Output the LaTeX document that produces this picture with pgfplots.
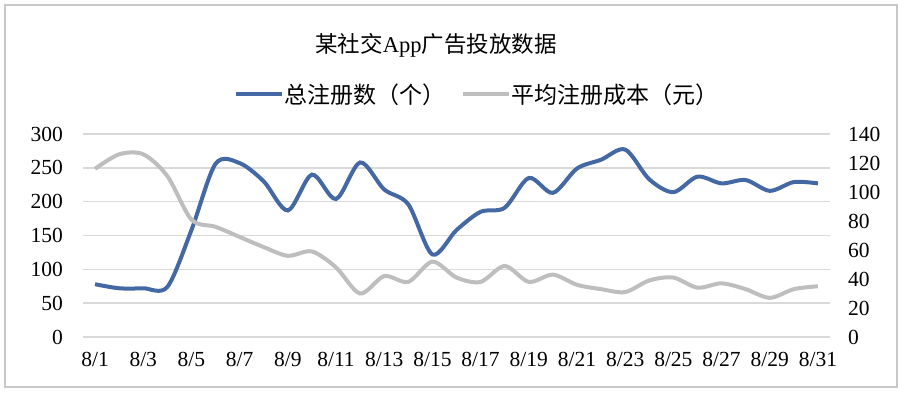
\documentclass[border=0pt]{standalone}
\usepackage{pgfplots}
\pgfplotsset{compat=1.18}
\usepackage{fontspec}
\setmainfont{Liberation Serif}
\newfontfamily\cjk{Noto Sans CJK SC}
\definecolor{serblue}{RGB}{68,104,164}
\definecolor{sergray}{RGB}{190,190,190}
\definecolor{gridgray}{RGB}{217,217,217}
\definecolor{framegray}{RGB}{200,200,200}
\pgfplotstableread{
i reg cost
0 78 116
1 72 126
2 72 126
3 74 111
4 158 81
5 256 76
6 257 69
7 230 62
8 187 56
9 240 59
10 204 48
11 258 30
12 218 42
13 196 38
14 122 52
15 158 41
16 185 38
17 191 49
18 235 38
19 213 43
20 249 36
21 262 33
22 277 31
23 233 39
24 214 41
25 237 34
26 227 37
27 232 33
28 216 27
29 229 33
30 227 35
}\datatable
\begin{document}
\begin{tikzpicture}[x=1pt,y=1pt]
\useasboundingbox (-83,-59) rectangle (825,337);
\fill[white] (-83,-59) rectangle (825,337);
\draw[framegray, line width=1.2pt] (-78,-50) rectangle (814,332);
\pgfplotsset{
  every axis/.append style={
    scale only axis, width=747pt, height=203pt,
    at={(0pt,0pt)}, anchor=south west,
    xmin=-0.5, xmax=30.5,
    axis line style={draw=none},
    tick style={draw=none},
    /pgf/number format/assume math mode=true,
    tick label style={font=\fontsize{21.5}{21.5}\selectfont},
  }
}
\begin{axis}[
  ymin=0, ymax=300, ytick={0,50,...,300},
  xtick={0,2,...,30},
  xticklabels={8/1,8/3,8/5,8/7,8/9,8/11,8/13,8/15,8/17,8/19,8/21,8/23,8/25,8/27,8/29,8/31},
  xticklabel style={inner sep=0pt, anchor=north, yshift=-15pt},
  yticklabel style={inner sep=0pt, anchor=east, xshift=-20pt},
  ymajorgrids, grid style={gridgray, line width=1.5pt},
]
\addplot[serblue, line width=4pt, smooth, no marks] table[x=i, y=reg] {\datatable};
\end{axis}
\begin{axis}[
  ymin=0, ymax=140, ytick={0,20,...,140},
  xtick=\empty,
  yticklabel pos=right,
  yticklabel style={inner sep=0pt, anchor=west, xshift=18pt},
  legend columns=2,
  legend style={at={(0.527,1.197)}, anchor=center, draw=none, fill=none,
    font=\cjk\fontsize{23}{23}\selectfont,
    /tikz/every even column/.append style={column sep=14pt},
    nodes={inner sep=1pt}},
  legend image code/.code={\draw[#1] (0pt,0pt) -- (46pt,0pt);},
]
\addlegendimage{serblue, line width=4pt}
\addlegendentry{总注册数（个）}
\addplot[sergray, line width=4pt, smooth, no marks] table[x=i, y=cost] {\datatable};
\addlegendentry{平均注册成本（元）}
\end{axis}
\node at (353,292) {\cjk\fontsize{22.5}{22.5}\selectfont 某社交{\rmfamily App}广告投放数据};
\end{tikzpicture}
\end{document}
